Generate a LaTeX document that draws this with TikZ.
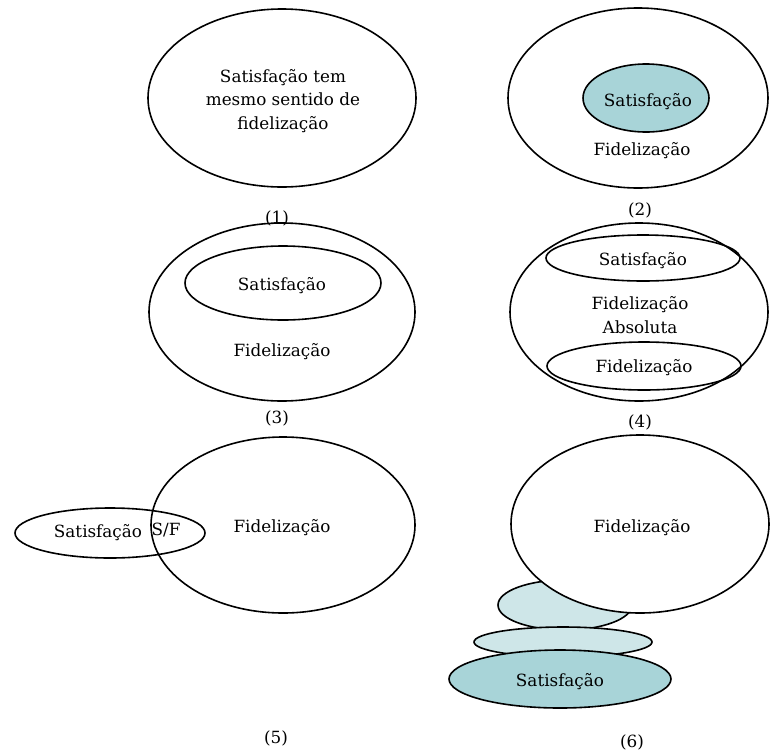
\documentclass[tikz,border=0pt]{standalone}
\usepackage{fontspec}
\setmainfont{DejaVu Serif}
\definecolor{tealfill}{RGB}{168,212,216}
\definecolor{lightfill}{RGB}{206,230,232}
\begin{document}
\begin{tikzpicture}[x=1pt,y=-1pt,
  ell/.style={draw=black,line width=1.6pt},
  lbl/.style={font=\fontsize{16.8}{23.5}\selectfont,inner sep=0pt,align=center},
  numlbl/.style={font=\fontsize{16.8}{18}\selectfont,inner sep=0pt}]
\useasboundingbox[fill=white] (0,0) rectangle (770,750);
% Panel 1
\path[ell] (282,98) ellipse [x radius=134,y radius=89];
\node[lbl] (t1) at (283,101) {Satisfação tem\\mesmo sentido de\\fidelização};
\node[numlbl] (c1) at (277,218) {(1)};
% Panel 2
\path[ell] (638,98) ellipse [x radius=130,y radius=90];
\path[ell,fill=tealfill] (646,98) ellipse [x radius=63,y radius=34];
\node[lbl] (t2a) at (648,102) {Satisfação};
\node[lbl] (t2b) at (642,151) {Fidelização};
\node[numlbl] (c2) at (640,210) {(2)};
% Panel 3
\path[ell] (282,312) ellipse [x radius=133,y radius=89];
\path[ell] (283,283) ellipse [x radius=98,y radius=37];
\node[lbl] (t3a) at (282,286) {Satisfação};
\node[lbl] (t3b) at (282,352) {Fidelização};
\node[numlbl] (c3) at (277,418) {(3)};
% Panel 4
\path[ell] (639,312) ellipse [x radius=129,y radius=89];
\path[ell] (643,258) ellipse [x radius=97,y radius=23];
\path[ell] (644,366) ellipse [x radius=97,y radius=24];
\node[lbl] (t4a) at (643,261) {Satisfação};
\node[lbl] (t4b) at (640,315) {Fidelização\\Absoluta};
\node[lbl] (t4c) at (644,368) {Fidelização};
\node[numlbl] (c4) at (640,422) {(4)};
% Panel 5
\path[ell] (283,525) ellipse [x radius=132,y radius=88];
\path[ell] (110,533) ellipse [x radius=95,y radius=25];
\node[lbl] (t5a) at (98,533) {Satisfação};
\node[lbl] (t5b) at (166,530) {S/F};
\node[lbl] (t5c) at (282,528) {Fidelização};
\node[numlbl] (c5) at (276,738) {(5)};
% Panel 6
\path[ell,fill=lightfill] (565,605) ellipse [x radius=67,y radius=25];
\path[ell,fill=white] (640,524) ellipse [x radius=129,y radius=89];
\path[ell,fill=lightfill] (563,642) ellipse [x radius=89,y radius=15];
\path[ell,fill=tealfill] (560,679) ellipse [x radius=111,y radius=29];
\node[lbl] (t6a) at (642,528) {Fidelização};
\node[lbl] (t6b) at (560,682) {Satisfação};
\node[numlbl] (c6) at (632,742) {(6)};
\end{tikzpicture}
\end{document}
